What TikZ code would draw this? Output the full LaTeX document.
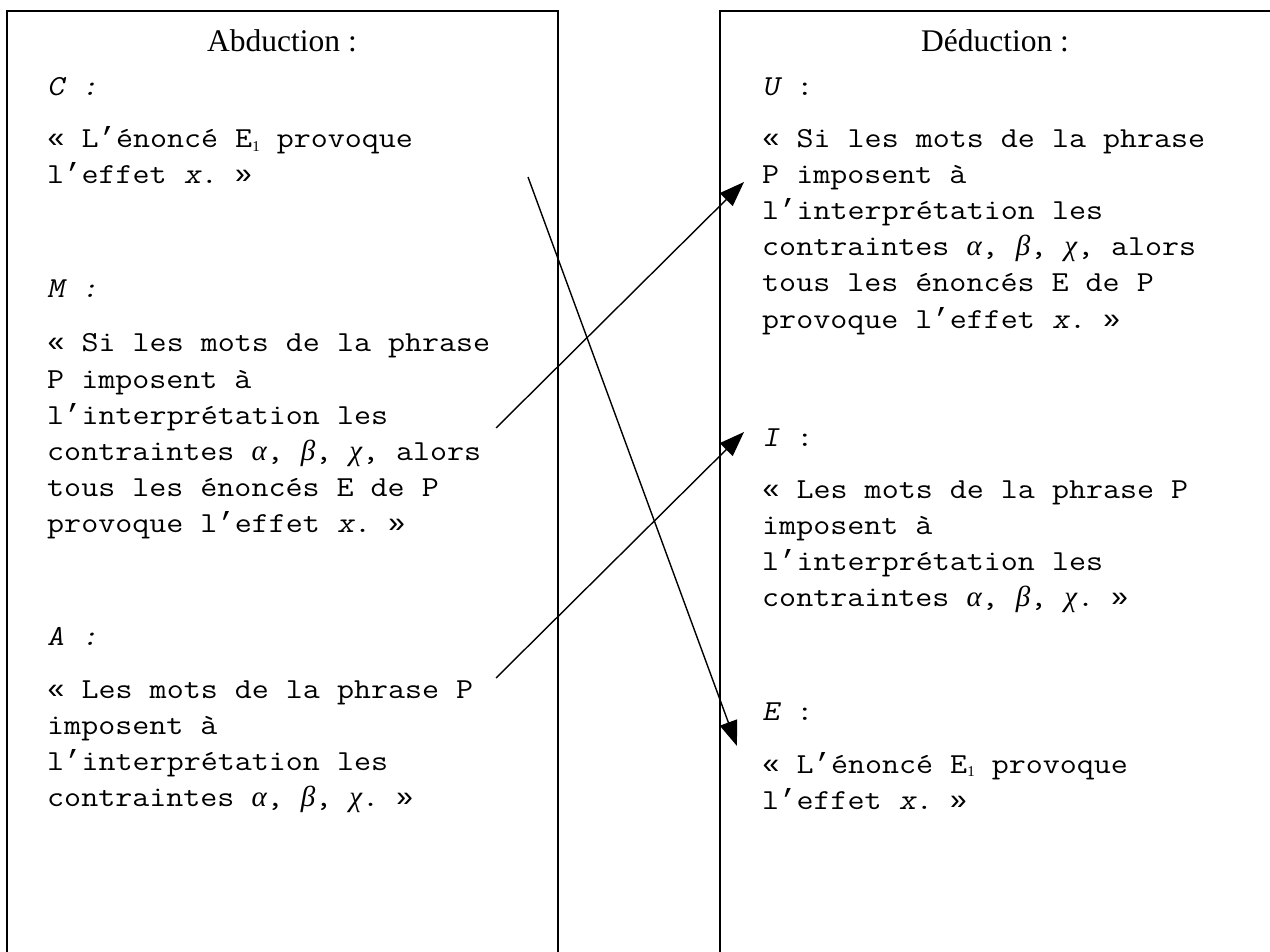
\documentclass[tikz,border=0pt]{standalone}
\usepackage{fontspec}
\setmainfont{Liberation Serif}
\setmonofont[FakeStretch=1.14]{Latin Modern Mono}
\newfontfamily\slmono[FakeStretch=1.14,FakeSlant=0.2]{Latin Modern Mono}
\newfontfamily\lmo{Liberation Mono}
\newfontfamily\grk{Liberation Serif}
\usetikzlibrary{arrows.meta}
\newcommand{\Eun}{E\raisebox{-0.12em}{\rmfamily\fontsize{15}{15}\selectfont 1}}
\newcommand{\gal}{{\grk\itshape α}}
\newcommand{\gbe}{{\grk\itshape β}}
\newcommand{\gch}{{\grk\itshape χ}}
\newcommand{\myLq}{{\lmo «}}
\newcommand{\myRq}{{\lmo »}}
\newcommand{\myAp}{{\lmo ’}}
\newcommand{\mySl}[1]{{\slmono #1}}
\begin{document}
\begin{tikzpicture}[x=1pt,y=-1pt,
  mono/.style={anchor=base west, inner sep=0pt, font=\ttfamily\fontsize{29}{36}\selectfont},
  ttl/.style={anchor=base, inner sep=0pt, font=\rmfamily\fontsize{31.5}{38}\selectfont},
  frame/.style={draw, line width=1.5pt},
  link/.style={line width=1.4pt, -{Triangle[length=25pt,width=18pt]}}]
\useasboundingbox (0,0) rectangle (1270,952);
\clip (0,0) rectangle (1270,952);
\draw[frame] (7,1000) -- (7,11) -- (558,11) -- (558,1000);
\draw[frame] (720,1000) -- (720,11) -- (1300,11);

% left column
\node[ttl] (tA) at (282,52) {Abduction :};
\node[mono] (c0) at (47,96) {\mySl{C :}};
\node[mono] (c1) at (47,148) {\myLq{} L\myAp{}énoncé \Eun{} provoque};
\node[mono] (c2) at (47,184) {l\myAp{}effet \mySl{x}. \myRq};
\node[mono] (m0) at (47,298) {\mySl{M :}};
\node[mono] (m1) at (47,352) {\myLq{} Si les mots de la phrase};
\node[mono] (m2) at (47,388) {P imposent à};
\node[mono] (m3) at (47,424) {l\myAp{}interprétation les};
\node[mono] (m4) at (47,460) {contraintes \gal, \gbe, \gch, alors};
\node[mono] (m5) at (47,496) {tous les énoncés E de P};
\node[mono] (m6) at (47,532) {provoque l\myAp{}effet \mySl{x}. \myRq};
\node[mono] (a0) at (47,645) {\mySl{A :}};
\node[mono] (a1) at (47,698) {\myLq{} Les mots de la phrase P};
\node[mono] (a2) at (47,734) {imposent à};
\node[mono] (a3) at (47,770) {l\myAp{}interprétation les};
\node[mono] (a4) at (47,806) {contraintes \gal, \gbe, \gch. \myRq};

% right column
\node[ttl] (tD) at (995,52) {Déduction :};
\node[mono] (u0) at (762,96) {\mySl{U} :};
\node[mono] (u1) at (762,148) {\myLq{} Si les mots de la phrase};
\node[mono] (u2) at (762,184) {P imposent à};
\node[mono] (u3) at (762,220) {l\myAp{}interprétation les};
\node[mono] (u4) at (762,256) {contraintes \gal, \gbe, \gch, alors};
\node[mono] (u5) at (762,292) {tous les énoncés E de P};
\node[mono] (u6) at (762,328) {provoque l\myAp{}effet \mySl{x}. \myRq};
\node[mono] (i0) at (762,446) {\mySl{I} :};
\node[mono] (i1) at (762,498) {\myLq{} Les mots de la phrase P};
\node[mono] (i2) at (762,534) {imposent à};
\node[mono] (i3) at (762,570) {l\myAp{}interprétation les};
\node[mono] (i4) at (762,606) {contraintes \gal, \gbe, \gch. \myRq};
\node[mono] (e0) at (762,720) {\mySl{E} :};
\node[mono] (e1) at (762,773) {\myLq{} L\myAp{}énoncé \Eun{} provoque};
\node[mono] (e2) at (762,809) {l\myAp{}effet \mySl{x}. \myRq};

% connectors
\coordinate (cS) at (528,177);
\coordinate (eT) at (737,746);
\coordinate (mS) at (496,428);
\coordinate (uT) at (744,182);
\coordinate (aS) at (496,678);
\coordinate (iT) at (744,432);
\draw[link] (cS) -- (eT);
\draw[link] (mS) -- (uT);
\draw[link] (aS) -- (iT);
\end{tikzpicture}
\end{document}
